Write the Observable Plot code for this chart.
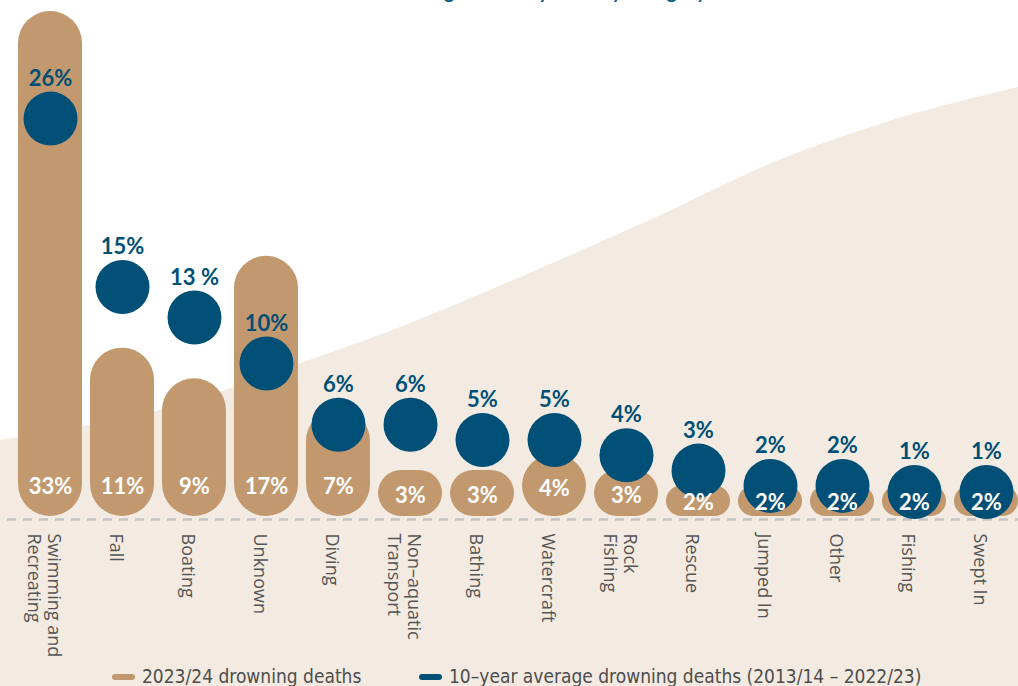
<!DOCTYPE html>
<html>
<head>
<meta charset="utf-8">
<script src="https://cdn.jsdelivr.net/npm/d3@7"></script>
<script src="https://cdn.jsdelivr.net/npm/@observablehq/plot@0.6"></script>
<style>
  html, body { margin: 0; padding: 0; background: #fff; overflow: hidden; }
  #wrap { position: relative; width: 1018px; height: 686px; overflow: hidden; background: #fff; }
  #title { position: absolute; left: 366px; top: -21px; font: italic 600 22px/22px Lato, "Open Sans", sans-serif; color: #0b5a82; white-space: nowrap; z-index: 2; }
  #chart { position: absolute; left: 0; top: 0; }
  #legend { position: absolute; left: 0; top: 650px; width: 1018px; height: 36px; font: 19px/19px "Liberation Sans Narrow", "DejaVu Sans Condensed", "Open Sans", sans-serif; color: #4d4d4d; z-index: 3; }
  .item { position: absolute; top: 17px; display: flex; align-items: center; white-space: nowrap; }
  .sw { display: inline-block; width: 23px; height: 6px; border-radius: 3px; margin-right: 7px; }
</style>
</head>
<body>
<div id="wrap">
  <div id="title">Drowning deaths by activity category</div>
  <div id="chart"></div>
  <div id="legend">
    <div class="item" style="left:112px"><span class="sw" style="background:#c2996f"></span>2023/24 drowning deaths</div>
    <div class="item" style="left:419px"><span class="sw" style="background:#004f76"></span>10–year average drowning deaths (2013/14 – 2022/23)</div>
  </div>
</div>
<script>
// ---- data ----
const categories = ["Swimming and\nRecreating", "Fall", "Boating", "Unknown", "Diving", "Non–aquatic\nTransport", "Bathing", "Watercraft", "Rock\nFishing", "Rescue", "Jumped In", "Other", "Fishing", "Swept In"];
const deaths2023 = [33, 11, 9, 17, 7, 3, 3, 4, 3, 2, 2, 2, 2, 2];
const avg10yr = [26, 15, 13, 10, 6, 6, 5, 5, 4, 3, 2, 2, 1, 1];
const deathLabels = ["33%", "11%", "9%", "17%", "7%", "3%", "3%", "4%", "3%", "2%", "2%", "2%", "2%", "2%"];
const avgLabels = ["26%", "15%", "13 %", "10%", "6%", "6%", "5%", "5%", "4%", "3%", "2%", "2%", "1%", "1%"];

const rows = categories.map((c, i) => ({category: c, deaths: deaths2023[i], avg: avg10yr[i], dLabel: deathLabels[i], aLabel: avgLabels[i]}));

const TAN = "#c2996f", BLUE = "#004f76", BEIGE = "#f3eae1";
const numFont = "Lato, 'Open Sans', sans-serif";

// decorative background wave (fractions of width, pixel y)
const wave = [[0, 440], [0.157, 410], [0.295, 363], [0.393, 327], [0.511, 277], [0.638, 220], [0.765, 160], [0.893, 115], [1, 87]];
function background(index, scales, values, dims) {
  const g = d3.create("svg:g");
  const pts = wave.map(([fx, y]) => [fx * dims.width, y]);
  const line = d3.line().curve(d3.curveCatmullRom.alpha(0.5));
  const d = line(pts) + `L${dims.width},${dims.height}L0,${dims.height}Z`;
  g.append("path").attr("d", d).attr("fill", BEIGE);
  return g.node();
}

const plot = Plot.plot({
  width: 1018,
  height: 686,
  marginTop: 11,
  marginBottom: 170,
  marginLeft: 7,
  marginRight: 0,
  style: {background: "transparent"},
  x: {domain: categories, paddingInner: 8 / 72, paddingOuter: 0, insetLeft: 11, axis: null},
  y: {domain: [0, 33], axis: null},
  marks: [
    background,
    Plot.ruleY([0], {stroke: "#c4c4c4", strokeWidth: 2.5, strokeDasharray: "9,7", dy: 3}),
    Plot.barY(rows, {x: "category", y: "deaths", fill: TAN}),
    Plot.dot(rows, {x: "category", y: d => Math.max(d.avg, 1.6), r: 27, fill: BLUE}),
    Plot.text(rows, {x: "category", y: d => Math.min(d.deaths * 0.45, 1.9), text: "dLabel", fill: "#fff", fontSize: 22, fontWeight: "bold", fontFamily: numFont}),
    Plot.text(rows, {x: "category", y: d => Math.max(d.avg, 1.6), text: "aLabel", dy: -40, fill: BLUE, fontSize: 22, fontWeight: "bold", fontFamily: numFont}),
    Plot.text(rows, {x: "category", text: "category", frameAnchor: "bottom", dy: 17, dx: -6, rotate: 90, textAnchor: "start", lineAnchor: "middle", lineHeight: 1.1, fontSize: 18, fill: "#555", fontFamily: "'Open Sans', sans-serif"})
  ]
});

// round both ends of every bar (pill shape)
d3.select(plot).selectAll("g[aria-label='bar'] rect").each(function() {
  const w = +this.getAttribute("width"), h = +this.getAttribute("height");
  const r = Math.min(w, h) / 2;
  this.setAttribute("rx", r);
  this.setAttribute("ry", r);
});

document.getElementById("chart").appendChild(plot);
</script>
</body>
</html>
